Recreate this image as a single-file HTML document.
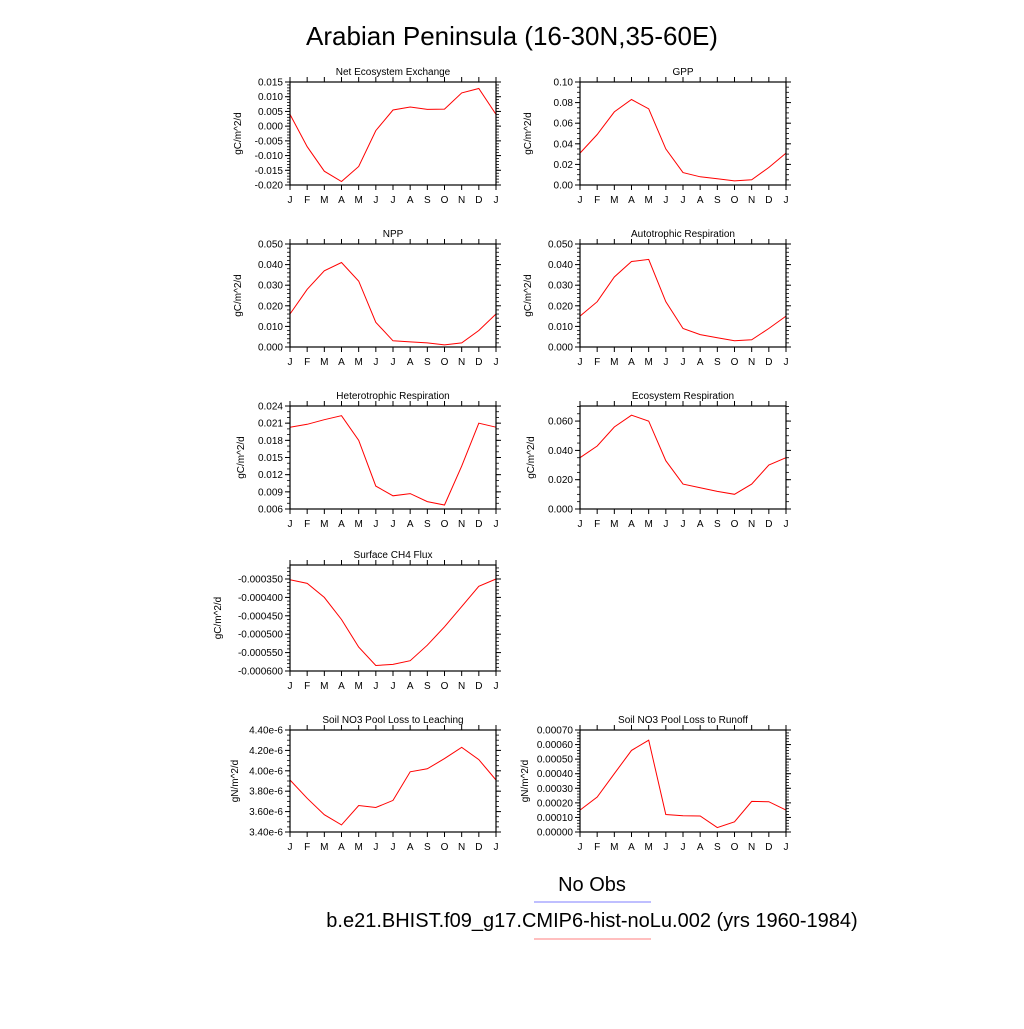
<!DOCTYPE html>
<html><head><meta charset="utf-8"><style>
body{margin:0;background:#fff}
svg{font-family:"Liberation Sans",sans-serif}
</style></head><body>
<svg id="c" width="1024" height="1024" viewBox="0 0 1024 1024" xmlns="http://www.w3.org/2000/svg">
<rect width="1024" height="1024" fill="#fff"/>
<text x="512" y="45" font-size="26" text-anchor="middle">Arabian Peninsula (16-30N,35-60E)</text>
<text x="592" y="891" font-size="20" text-anchor="middle">No Obs</text>
<line x1="534" y1="902" x2="651" y2="902" stroke="#9999ff" stroke-width="1.2"/>
<text x="592" y="927" font-size="20" text-anchor="middle">b.e21.BHIST.f09_g17.CMIP6-hist-noLu.002 (yrs 1960-1984)</text>
<line x1="534" y1="939" x2="651" y2="939" stroke="#ff9999" stroke-width="1.2"/>
</svg>
<script>
const months = ["J","F","M","A","M","J","J","A","S","O","N","D","J"];
const neeVals = [0.004,-0.007,-0.0153,-0.0188,-0.0137,-0.0015,0.0055,0.0065,0.0057,0.0058,0.0113,0.0128,0.004];
const gppVals = [0.031,0.049,0.071,0.083,0.074,0.035,0.012,0.008,0.006,0.004,0.005,0.017,0.031];
const nppVals = [0.016,0.028,0.037,0.041,0.032,0.012,0.003,0.0025,0.002,0.001,0.002,0.008,0.016];
const arVals = [0.015,0.022,0.034,0.0415,0.0425,0.022,0.009,0.006,0.0045,0.003,0.0035,0.009,0.015];
const hrVals = [0.0203,0.0208,0.0216,0.0223,0.018,0.010,0.0083,0.0087,0.0073,0.0067,0.0135,0.021,0.0203];
const erVals = [0.035,0.043,0.056,0.064,0.060,0.033,0.017,0.0145,0.012,0.010,0.017,0.030,0.035];
const ch4Vals = [-0.000352,-0.000362,-0.0004,-0.00046,-0.000535,-0.000585,-0.000582,-0.000572,-0.00053,-0.00048,-0.000425,-0.00037,-0.00035];
const leachVals = [3.91e-6,3.73e-6,3.57e-6,3.47e-6,3.66e-6,3.64e-6,3.71e-6,3.99e-6,4.02e-6,4.12e-6,4.23e-6,4.11e-6,3.91e-6];
const runoffVals = [0.00015,0.00024,0.0004,0.00056,0.00063,0.00012,0.000112,0.00011,0.00003,0.00007,0.00021,0.000208,0.00015];
const neeTicks = ["0.015","0.010","0.005","0.000","-0.005","-0.010","-0.015","-0.020"];
const gppTicks = ["0.10","0.08","0.06","0.04","0.02","0.00"];
const nppTicks = ["0.050","0.040","0.030","0.020","0.010","0.000"];
const hrTicks = ["0.024","0.021","0.018","0.015","0.012","0.009","0.006"];
const erTicks = ["0.060","0.040","0.020","0.000"];
const ch4Ticks = ["-0.000350","-0.000400","-0.000450","-0.000500","-0.000550","-0.000600"];
const leachTicks = ["4.40e-6","4.20e-6","4.00e-6","3.80e-6","3.60e-6","3.40e-6"];
const runoffTicks = ["0.00070","0.00060","0.00050","0.00040","0.00030","0.00020","0.00010","0.00000"];

const panels = [
 {n:"nee",t:"Net Ecosystem Exchange",x:290,y:82,h:103,min:-0.020,max:0.015,v:neeVals,ticks:neeTicks,minor:5,u:"gC/m^2/d"},
 {n:"gpp",t:"GPP",x:580,y:82,h:103,min:0,max:0.10,v:gppVals,ticks:gppTicks,minor:4,u:"gC/m^2/d"},
 {n:"npp",t:"NPP",x:290,y:244,h:103,min:0,max:0.050,v:nppVals,ticks:nppTicks,minor:5,u:"gC/m^2/d"},
 {n:"ar",t:"Autotrophic Respiration",x:580,y:244,h:103,min:0,max:0.050,v:arVals,ticks:nppTicks,minor:5,u:"gC/m^2/d"},
 {n:"hr",t:"Heterotrophic Respiration",x:290,y:406,h:103,min:0.006,max:0.024,v:hrVals,ticks:hrTicks,minor:3,u:"gC/m^2/d"},
 {n:"er",t:"Ecosystem Respiration",x:580,y:406,h:103,min:0,max:0.0703,v:erVals,ticks:erTicks,minor:4,u:"gC/m^2/d"},
 {n:"ch4",t:"Surface CH4 Flux",x:290,y:565,h:106,min:-0.0006,max:-0.000312,v:ch4Vals,ticks:ch4Ticks,minor:5,u:"gC/m^2/d"},
 {n:"leach",t:"Soil NO3 Pool Loss to Leaching",x:290,y:730,h:102,min:3.4e-6,max:4.4e-6,v:leachVals,ticks:leachTicks,minor:4,u:"gN/m^2/d"},
 {n:"runoff",t:"Soil NO3 Pool Loss to Runoff",x:580,y:730,h:102,min:0,max:0.0007,v:runoffVals,ticks:runoffTicks,minor:5,u:"gN/m^2/d"}
];
const svg=document.getElementById('c');
const NS="http://www.w3.org/2000/svg";
function mk(tag,attrs,parent){const e=document.createElementNS(NS,tag);for(const k in attrs)e.setAttribute(k,attrs[k]);parent.appendChild(e);return e;}
const W=206;
panels.forEach(p=>{
 const g=mk('g',{},svg);
 
 
 const xs=i=>p.x+i*W/12;
 const ys=v=>p.y+p.h-(v-p.min)/(p.max-p.min)*p.h;
 const t=mk('text',{x:p.x+W/2,y:p.y-7,'font-size':10,'text-anchor':'middle'},g);t.textContent=p.t;
 
 
 // y ticks
 p.ticks.forEach((lab,i)=>{
  const v=parseFloat(lab);const y=ys(v);
  mk('line',{x1:p.x-5,y1:y,x2:p.x,y2:y,stroke:'#000','stroke-width':1},g);
  mk('line',{x1:p.x+W,y1:y,x2:p.x+W+5,y2:y,stroke:'#000','stroke-width':1},g);
  const tl=mk('text',{x:p.x-7,y:y+3.5,'font-size':10,'text-anchor':'end'},g);tl.textContent=lab;
  
  
 });
 const step=(parseFloat(p.ticks[0])-parseFloat(p.ticks[1]))/p.minor;
 for(let v=parseFloat(p.ticks[p.ticks.length-1]);v<=p.max+1e-12;v+=step){
  const y=ys(v);if(y<p.y-0.5||y>p.y+p.h+0.5)continue;
  mk('line',{x1:p.x-3,y1:y,x2:p.x,y2:y,stroke:'#000','stroke-width':0.8},g);
  mk('line',{x1:p.x+W,y1:y,x2:p.x+W+3,y2:y,stroke:'#000','stroke-width':0.8},g);
 }
 months.forEach((m,i)=>{
  const x=xs(i);
  mk('line',{x1:x,y1:p.y+p.h,x2:x,y2:p.y+p.h+5,stroke:'#000','stroke-width':1},g);
  mk('line',{x1:x,y1:p.y-5,x2:x,y2:p.y,stroke:'#000','stroke-width':1},g);
  const tl=mk('text',{x:x,y:p.y+p.h+18,'font-size':10,'text-anchor':'middle'},g);tl.textContent=m;
  
  
 });
 const yl=mk('text',{x:0,y:0,'font-size':10,'text-anchor':'middle',transform:`translate(${p.x-(p.n==='ch4'?69:p.n==='runoff'||p.n==='leach'?52:(p.n==='hr'||p.n==='er'?46:49))},${p.y+p.h/2}) rotate(-90)`},g);
 yl.textContent=p.u;
 
 
 const pts=p.v.map((v,i)=>xs(i).toFixed(1)+','+ys(v).toFixed(1)).join(' ');
 const pl=mk('polyline',{points:pts,fill:'none',stroke:'#ff0000','stroke-width':1},g);
 
 
 const fr=mk('rect',{x:p.x,y:p.y,width:W,height:p.h,fill:'none',stroke:'#000','stroke-width':1.2},g);
 
 
});
</script>
</body></html>
